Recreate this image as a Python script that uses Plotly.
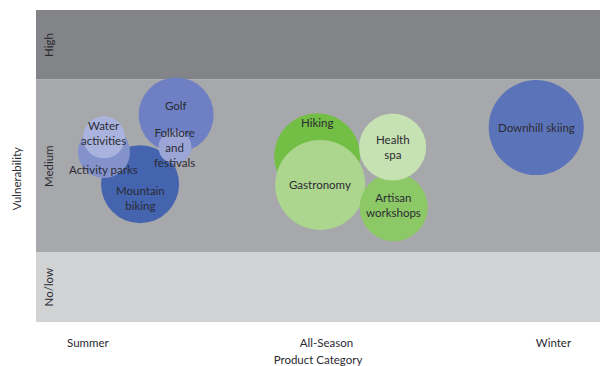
import plotly.graph_objects as go

# ---- data ----
categories = ["Summer", "All-Season", "Winter"]
category_pos = [0, 1.025, 2]
bands = ["No/low", "Medium", "High"]
band_lo = [0.0, 1.0, 3.47]
band_hi = [1.0, 3.47, 4.46]

products = ["Mountain biking", "Activity parks", "Water activities", "Golf",
            "Folklore and festivals", "Hiking", "Gastronomy", "Artisan workshops",
            "Health spa", "Downhill skiing"]
labels = ["Mountain<br>biking", "Activity parks", "Water<br>activities", "Golf",
          "Folklore<br>and<br>festivals", "Hiking", "Gastronomy", "Artisan<br>workshops",
          "Health<br>spa", "Downhill skiing"]
x_vals = [0.224, 0.069, 0.069, 0.379, 0.374, 0.985, 0.998, 1.314, 1.309, 1.926]
y_vals = [1.97, 2.43, 2.64, 2.96, 2.50, 2.37, 1.96, 1.64, 2.50, 2.78]
sizes = [78, 52, 42, 75, 33, 86, 90, 68, 67, 95]

# ---- styles ----
colors = ["#4464b0", "#8492cb", "#aab3de", "#6e80c3", "#9ca6d6",
          "#73be45", "#acd68e", "#8dc867", "#c7e2b2", "#5b74b9"]
label_shift = [-14, -17, 4, 9, 0, 34, 0, 2, 0, 0]
band_colors = ["#d1d2d4", "#a7a8ab", "#838487"]

fig = go.Figure()

for lo, hi, c in zip(band_lo, band_hi, band_colors):
    fig.add_shape(type="rect", xref="paper", x0=0, x1=1, yref="y", y0=lo, y1=hi,
                  fillcolor=c, line_width=0, layer="below")

for i in range(len(products)):
    fig.add_trace(go.Scatter(
        x=[x_vals[i]], y=[y_vals[i]], mode="markers", name=products[i],
        marker=dict(size=sizes[i], sizemode="diameter", color=colors[i],
                    opacity=1, line=dict(width=0)),
        hoverinfo="name", showlegend=False))

for i in range(len(products)):
    fig.add_annotation(x=x_vals[i], y=y_vals[i], text=labels[i], showarrow=False,
                       yshift=label_shift[i],
                       font=dict(family="Lato", size=11.5, color="#2b2b33"))

for lo, hi, b in zip(band_lo, band_hi, bands):
    fig.add_annotation(xref="paper", x=0.022, y=(lo + hi) / 2, text=b,
                       showarrow=False, textangle=-90, xanchor="center",
                       yanchor="middle",
                       font=dict(family="Lato", size=11.5, color="#2b2b33"))

fig.add_annotation(xref="paper", yref="paper", x=-0.034, y=0.46, text="Vulnerability",
                   showarrow=False, textangle=-90, xanchor="center",
                   font=dict(family="Lato", size=11.5, color="#2b2b33"))

fig.update_layout(
    width=600, height=366,
    margin=dict(l=36, r=0, t=10, b=44),
    paper_bgcolor="white", plot_bgcolor="white",
    font=dict(family="Lato", size=11.5, color="#2b2b33"),
    xaxis=dict(range=[-0.223, 2.2], tickvals=category_pos, ticktext=categories,
               showgrid=False, zeroline=False, showline=False, ticks="",
               ticklabelstandoff=12, fixedrange=True,
               title=dict(text="Product Category", standoff=9,
                          font=dict(family="Lato", size=11.5))),
    yaxis=dict(range=[0, 4.46], showticklabels=False, showgrid=False,
               zeroline=False, showline=False, ticks="", fixedrange=True),
)

fig.write_html("out.html", config={"displayModeBar": False},
               post_script="document.body.style.margin='0';document.body.style.overflow='hidden';")
